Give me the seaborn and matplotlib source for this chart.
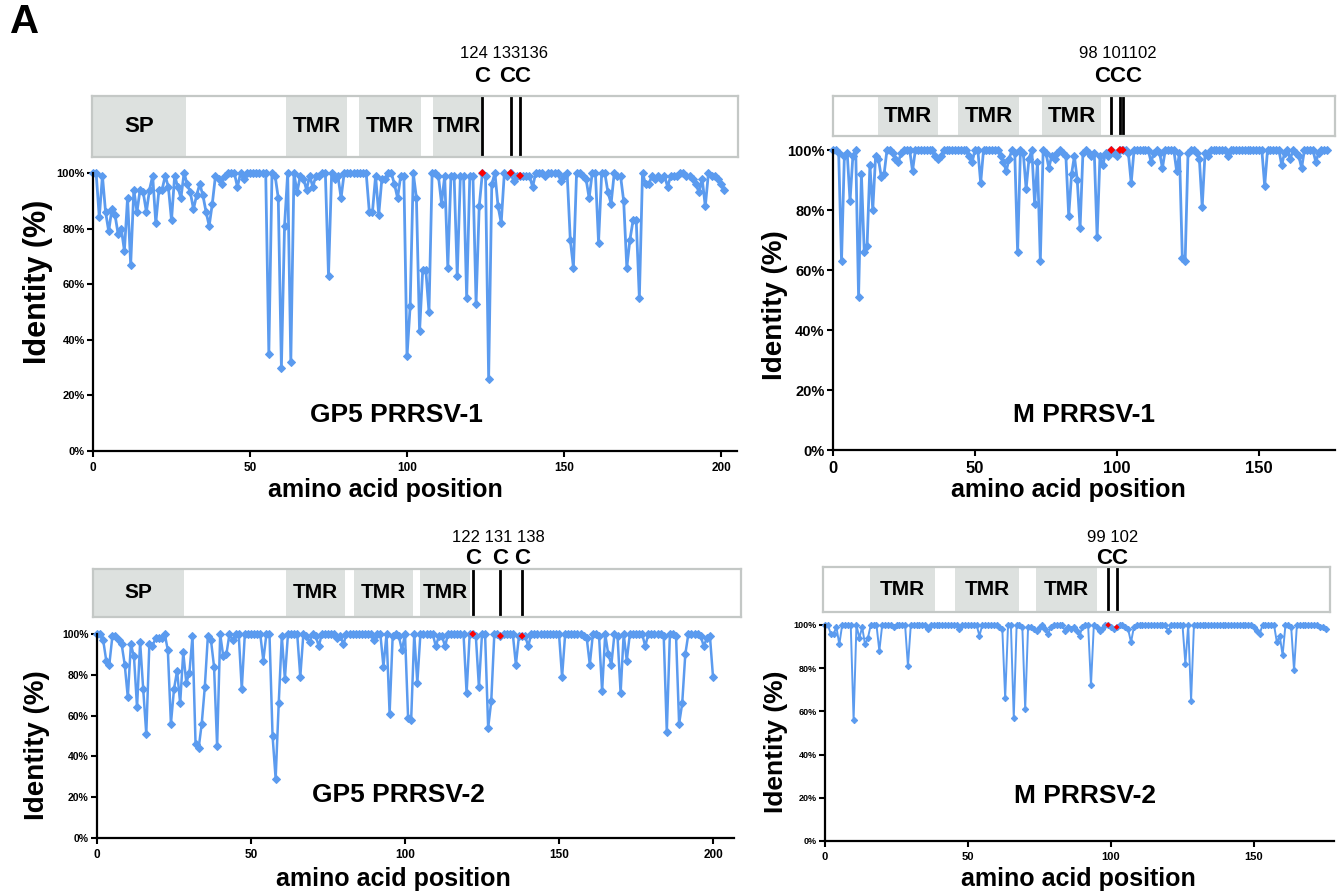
import matplotlib
matplotlib.use("Agg")
import matplotlib.pyplot as plt
import seaborn as sns
from matplotlib import transforms

sns.set_style("ticks")
plt.rcParams["font.family"] = ["Liberation Sans", "DejaVu Sans"]
plt.rcParams["text.color"] = "black"
plt.rcParams["xtick.color"] = "black"
plt.rcParams["ytick.color"] = "black"

W, H = 1342, 894
BLUE = "#5b9bef"
BOX_GRAY = "#dde1df"
BOX_EDGE = "#c4c8c6"

# ---- identity values (%) per amino acid position ----
gp5_1 = [
    100, 100, 84, 99, 86, 79, 87, 85, 78, 80,
    72, 91, 67, 94, 86, 94, 93, 86, 94, 99,
    82, 94, 94, 99, 95, 83, 99, 95, 91, 100,
    96, 93, 87, 92, 96, 92, 86, 81, 89, 99,
    98, 96, 99, 100, 100, 100, 95, 100, 98, 100,
    100, 100, 100, 100, 100, 100, 35, 100, 99, 91,
    30, 81, 100, 32, 100, 93, 99, 98, 94, 99,
    95, 99, 99, 100, 100, 63, 100, 98, 99, 91,
    100, 100, 100, 100, 100, 100, 100, 100, 86, 86,
    99, 85, 98, 98, 100, 100, 96, 91, 99, 99,
    34, 52, 100, 91, 43, 65, 65, 50, 100, 100,
    99, 89, 99, 66, 99, 99, 63, 99, 99, 55,
    99, 99, 53, 88, 100, 99, 26, 96, 100, 88,
    82, 100, 99, 100, 97, 99, 99, 99, 99, 99,
    95, 100, 100, 100, 99, 100, 100, 100, 100, 97,
    99, 100, 76, 66, 100, 100, 99, 98, 91, 100,
    100, 75, 100, 100, 93, 89, 100, 99, 99, 90,
    66, 76, 83, 83, 55, 100, 96, 96, 99, 98,
    99, 98, 99, 95, 99, 99, 99, 100, 100, 99,
    99, 98, 96, 93, 98, 88, 100, 99, 99, 98,
    96, 94,
]

m_1 = [
    100, 100, 99, 63, 98, 99, 83, 98, 100, 51,
    92, 66, 68, 95, 80, 98, 97, 91, 92, 100,
    100, 99, 97, 96, 99, 100, 100, 100, 93, 100,
    100, 100, 100, 100, 100, 100, 98, 97, 98, 100,
    100, 100, 100, 100, 100, 100, 100, 100, 98, 96,
    100, 100, 89, 100, 100, 100, 100, 100, 100, 98,
    96, 93, 97, 100, 99, 66, 100, 99, 87, 97,
    100, 82, 96, 63, 100, 99, 94, 98, 97, 99,
    100, 99, 98, 78, 92, 98, 90, 74, 99, 100,
    99, 98, 99, 71, 98, 95, 99, 98, 100, 99,
    98, 100, 100, 100, 99, 89, 100, 100, 100, 100,
    100, 100, 96, 99, 100, 99, 94, 100, 100, 100,
    100, 93, 99, 64, 63, 99, 100, 100, 99, 97,
    81, 99, 98, 100, 100, 100, 100, 100, 100, 98,
    100, 100, 100, 100, 100, 100, 100, 100, 100, 100,
    100, 100, 88, 100, 100, 100, 100, 100, 95, 99,
    100, 97, 100, 99, 98, 94, 100, 100, 100, 100,
    96, 99, 100, 100, 100,
]

gp5_2 = [
    100, 100, 97, 87, 85, 99, 99, 97, 95, 85,
    69, 95, 89, 64, 96, 73, 51, 95, 94, 98,
    98, 98, 100, 92, 56, 73, 82, 66, 91, 76,
    81, 99, 46, 44, 56, 74, 99, 97, 84, 45,
    100, 89, 90, 100, 97, 100, 100, 73, 100, 100,
    100, 100, 100, 100, 87, 100, 100, 50, 29, 66,
    99, 78, 100, 100, 100, 100, 79, 100, 99, 96,
    100, 99, 94, 100, 100, 100, 100, 100, 98, 99,
    95, 100, 100, 100, 100, 100, 100, 100, 100, 100,
    97, 100, 100, 84, 100, 61, 99, 100, 99, 92,
    100, 59, 58, 100, 76, 100, 100, 100, 100, 100,
    94, 99, 99, 94, 100, 100, 100, 100, 100, 100,
    71, 100, 100, 99, 74, 100, 100, 54, 67, 100,
    100, 99, 100, 100, 100, 100, 85, 99, 99, 99,
    94, 100, 100, 100, 100, 100, 100, 100, 100, 100,
    100, 79, 100, 100, 100, 100, 100, 100, 99, 98,
    85, 100, 100, 99, 72, 100, 90, 85, 100, 99,
    71, 100, 87, 100, 100, 100, 100, 100, 94, 100,
    100, 100, 100, 100, 99, 52, 100, 100, 99, 56,
    66, 90, 100, 100, 100, 100, 99, 94, 98, 99,
    79,
]

m_2 = [
    100, 100, 96, 96, 99, 91, 100, 100, 100, 100,
    56, 100, 94, 99, 91, 94, 100, 100, 100, 88,
    100, 100, 100, 100, 99, 100, 100, 100, 100, 81,
    100, 100, 100, 100, 100, 100, 98, 100, 100, 100,
    100, 100, 100, 100, 100, 100, 100, 98, 100, 100,
    100, 100, 100, 100, 95, 100, 100, 100, 100, 100,
    100, 99, 98, 66, 100, 100, 57, 100, 100, 99,
    61, 99, 99, 98, 97, 99, 100, 98, 96, 99,
    100, 100, 100, 100, 97, 99, 98, 99, 97, 95,
    99, 100, 100, 72, 100, 99, 97, 98, 100, 100,
    99, 98, 99, 100, 100, 99, 98, 92, 99, 100,
    100, 100, 100, 100, 100, 100, 100, 100, 100, 100,
    97, 100, 100, 100, 100, 100, 82, 100, 65, 100,
    100, 100, 100, 100, 100, 100, 100, 100, 100, 100,
    100, 100, 100, 100, 100, 100, 100, 100, 100, 100,
    99, 97, 96, 100, 100, 100, 100, 100, 92, 95,
    86, 100, 100, 99, 79, 100, 100, 100, 100, 100,
    100, 100, 100, 99, 99, 98,
]

# ---- protein domain annotations ----
gp5_1_domains = [("SP", 0, 29.5), ("TMR", 61.5, 81), ("TMR", 84.7, 104.5), ("TMR", 108.2, 123.6)]
m_1_domains = [("TMR", 16, 37), ("TMR", 44, 65.5), ("TMR", 73.5, 94.5)]
gp5_2_domains = [("SP", -1.3, 28.2), ("TMR", 61.4, 80.5), ("TMR", 83.4, 102.6), ("TMR", 105, 121)]
m_2_domains = [("TMR", 15.7, 38.5), ("TMR", 45.5, 67.8), ("TMR", 73.8, 95)]

# cysteine sites (grouped as they are labelled)
gp5_1_cys = [[124], [133, 136]]
m_1_cys = [[98, 101, 102]]
gp5_2_cys = [[122], [131], [138]]
m_2_cys = [[99, 102]]

gp5_1_cys_label = "124 133136"
m_1_cys_label = "98 101102"
gp5_2_cys_label = "122 131 138"
m_2_cys_label = "99 102"

titles = ["GP5 PRRSV-1", "M PRRSV-1", "GP5 PRRSV-2", "M PRRSV-2"]
y_ticks = [0, 20, 40, 60, 80, 100]
y_tick_labels = [f"{v}%" for v in y_ticks]


def px_axes(fig, left, right, top, bottom):
    return fig.add_axes([left / W, 1 - bottom / H, (right - left) / W, (bottom - top) / H])


def draw_panel(fig, values, domains, cys_groups, cys_label, title, lay):
    x0, scale = lay["x0"], lay["scale"]

    # domain diagram
    bl, br, bt, bb = lay["box"]
    axb = px_axes(fig, bl, br, bt, bb)
    axb.set_xlim((bl - x0) / scale, (br - x0) / scale)
    axb.set_ylim(0, 1)
    axb.set_xticks([])
    axb.set_yticks([])
    for sp in axb.spines.values():
        sp.set_color(BOX_EDGE)
        sp.set_linewidth(1.6)
    for name, a, b in domains:
        axb.axvspan(a, b, color=BOX_GRAY, lw=0)
        axb.text((a + b) / 2, 0.5, name, ha="center", va="center",
                 fontsize=lay["dom_fs"], fontweight="bold")
    sites = [s for g in cys_groups for s in g]
    for s in sites:
        axb.axvline(s, color="black", lw=2)
    trans = transforms.blended_transform_factory(axb.transData, fig.transFigure)
    axb.text(sum(sites) / len(sites), 1 - lay["num_y"] / H, cys_label, transform=trans,
             ha="center", va="center", fontsize=12)
    for g in cys_groups:
        axb.text(sum(g) / len(g), 1 - lay["c_y"] / H, "C" * len(g), transform=trans,
                 ha="center", va="center", fontsize=16, fontweight="bold")

    # identity plot
    ax = px_axes(fig, x0, lay["xend"], lay["y100"], lay["y0"])
    pos = list(range(len(values)))
    sns.lineplot(x=pos, y=values, ax=ax, color=BLUE, lw=lay["lw"], marker="D",
                 markersize=lay["ms"], markeredgecolor=BLUE, errorbar=None,
                 sort=False, clip_on=False)
    sns.scatterplot(x=sites, y=[values[s] for s in sites], ax=ax, color="red",
                    marker="D", s=lay["ms"] ** 2 * 0.8, edgecolor="none",
                    zorder=5, clip_on=False)
    ax.set_xlim(0, (lay["xend"] - x0) / scale)
    ax.set_ylim(0, 100)
    ax.set_xticks(lay["xticks"])
    ax.set_yticks(y_ticks)
    ax.set_yticklabels(y_tick_labels)
    ax.tick_params(axis="y", labelsize=lay["ytick_fs"], width=1.5, length=4, pad=2)
    ax.tick_params(axis="x", labelsize=lay["xtick_fs"], width=1.5, length=4, pad=4)
    for lab in ax.get_xticklabels() + ax.get_yticklabels():
        lab.set_fontweight("bold")
    sns.despine(ax=ax)
    for sp in ("left", "bottom"):
        ax.spines[sp].set_linewidth(1.6)
        ax.spines[sp].set_color("black")
    ax.set_xlabel("")
    ax.set_ylabel("")
    ax.text(lay["title_xy"][0], lay["title_xy"][1], title, ha="center", va="center",
            fontsize=19, fontweight="bold")
    fig.text(lay["xlab"][0] / W, 1 - lay["xlab"][1] / H, "amino acid position",
             ha="center", va="center", fontsize=18, fontweight="bold")
    fig.text(lay["ylab"][0] / W, 1 - lay["ylab"][1] / H, "Identity (%)", rotation=90,
             ha="center", va="center", fontsize=lay["ylab_fs"], fontweight="bold")


fig = plt.figure(figsize=(W / 100, H / 100), dpi=100)

layouts = [
    dict(x0=93, scale=3.14, xend=737, y0=451, y100=173, box=(92, 738, 96, 157),
         num_y=54, c_y=77, title_xy=(96.7, 13), xlab=(385, 490), ylab=(38, 282),
         ytick_fs=8, xtick_fs=8.5, lw=2.0, ms=4.5, dom_fs=16, ylab_fs=22,
         xticks=[0, 50, 100, 150, 200]),
    dict(x0=833, scale=2.84, xend=1335, y0=450, y100=150, box=(833, 1335, 96, 136),
         num_y=53, c_y=76, title_xy=(88.5, 11.7), xlab=(1068, 490), ylab=(775, 305),
         ytick_fs=10.5, xtick_fs=12, lw=2.0, ms=4.5, dom_fs=16, ylab_fs=20,
         xticks=[0, 50, 100, 150]),
    dict(x0=97, scale=3.08, xend=734, y0=838, y100=634, box=(93, 741, 569, 617),
         num_y=538, c_y=558, title_xy=(98, 21), xlab=(393, 879), ylab=(37, 745),
         ytick_fs=7.5, xtick_fs=8.5, lw=1.8, ms=4, dom_fs=15, ylab_fs=20,
         xticks=[0, 50, 100, 150, 200]),
    dict(x0=825, scale=2.86, xend=1334, y0=841, y100=625, box=(823, 1330, 567, 612),
         num_y=538, c_y=558, title_xy=(91, 21), xlab=(1078, 879), ylab=(776, 742),
         ytick_fs=6.5, xtick_fs=8, lw=1.4, ms=3.2, dom_fs=15, ylab_fs=19,
         xticks=[0, 50, 100, 150]),
]

panels = [
    (gp5_1, gp5_1_domains, gp5_1_cys, gp5_1_cys_label),
    (m_1, m_1_domains, m_1_cys, m_1_cys_label),
    (gp5_2, gp5_2_domains, gp5_2_cys, gp5_2_cys_label),
    (m_2, m_2_domains, m_2_cys, m_2_cys_label),
]

for (vals, doms, cys, lab), title, lay in zip(panels, titles, layouts):
    draw_panel(fig, vals, doms, cys, lab, title, lay)

fig.text(10 / W, 1 - 22 / H, "A", fontsize=29, fontweight="bold", ha="left", va="center")

fig.savefig("out.png", dpi=100)
